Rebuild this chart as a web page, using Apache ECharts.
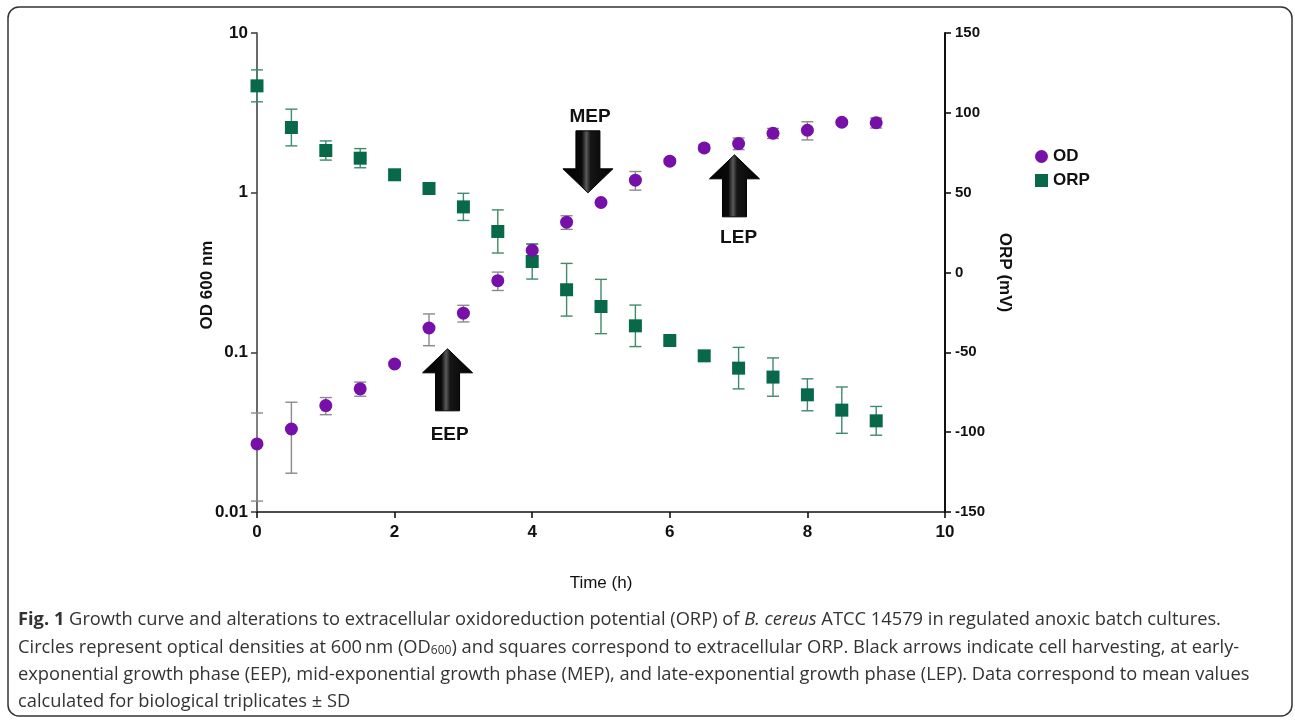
<!DOCTYPE html>
<html>
<head>
<meta charset="utf-8">
<script src="https://cdn.jsdelivr.net/npm/echarts@6/dist/echarts.min.js"></script>
<style>
html,body{margin:0;padding:0;background:#fff;}
#chart{width:1295px;height:722px;}
</style>
</head>
<body>
<div id="chart"></div>
<script>
// ---- data ----
const times = [0, 0.5, 1, 1.5, 2, 2.5, 3, 3.5, 4, 4.5, 5, 5.5, 6, 6.5, 7, 7.5, 8, 8.5, 9];
const odMean = [0.0267, 0.0331, 0.0464, 0.0591, 0.0845, 0.142, 0.176, 0.281, 0.436, 0.653, 0.868, 1.197, 1.574, 1.907, 2.03, 2.355, 2.46, 2.76, 2.74];
const odSd = [0.015, 0.0156, 0.0057, 0.006, 0.003, 0.032, 0.021, 0.037, 0.04, 0.064, 0.02, 0.16, 0.05, 0.08, 0.17, 0.17, 0.32, 0.08, 0.2];
const orpMean = [116.9, 90.8, 76.4, 71.6, 61.2, 52.6, 41.1, 25.7, 6.9, -10.8, -21.3, -33.4, -42.6, -52.2, -59.9, -65.5, -76.6, -86.2, -92.9];
const orpSd = [10, 11.5, 6, 6, 1, 1, 8.5, 13.5, 11, 16.5, 17, 13, 2.5, 2.5, 13, 12, 10, 14.5, 9];
const xTicks = [0, 2, 4, 6, 8, 10];
const odTicks = [0.01, 0.1, 1, 10];
const orpTicks = [-150, -100, -50, 0, 50, 100, 150];
const seriesNames = ['OD', 'ORP'];
// harvesting annotations
const harvestNames = ['EEP', 'MEP', 'LEP'];
const harvestTime = [2.77, 4.81, 6.94];
const harvestDir = ['up', 'down', 'up'];

const PURPLE = '#7610A8';
const GREEN = '#07684A';
const FONT = "'Liberation Sans', Arial, sans-serif";

const odData = times.map((t, i) => [t, odMean[i]]);
const orpData = times.map((t, i) => [t, orpMean[i]]);
const odErr = times.map((t, i) => [t, odMean[i] - odSd[i], odMean[i] + odSd[i]]);
const orpErr = times.map((t, i) => [t, orpMean[i] - orpSd[i], orpMean[i] + orpSd[i]]);

function errRender(color) {
  return function (params, api) {
    const x = api.value(0);
    const lo = api.coord([x, api.value(1)]);
    const hi = api.coord([x, api.value(2)]);
    const c = 6;
    const st = { stroke: color, lineWidth: 1.4 };
    return {
      type: 'group',
      children: [
        { type: 'line', shape: { x1: lo[0], y1: lo[1], x2: hi[0], y2: hi[1] }, style: st },
        { type: 'line', shape: { x1: hi[0] - c, y1: hi[1], x2: hi[0] + c, y2: hi[1] }, style: st },
        { type: 'line', shape: { x1: lo[0] - c, y1: lo[1], x2: lo[0] + c, y2: lo[1] }, style: st }
      ]
    };
  };
}

const chart = echarts.init(document.getElementById('chart'), null, { renderer: 'canvas' });

const option = {
  animation: false,
  backgroundColor: '#fff',
  grid: { left: 257, right: 350, top: 33, bottom: 210 },
  legend: {
    orient: 'vertical', left: 1030, top: 143,
    itemWidth: 13, itemHeight: 13, itemGap: 7,
    textStyle: { fontFamily: FONT, fontWeight: 'bold', fontSize: 17, color: '#111' },
    data: [{ name: seriesNames[0], icon: 'circle' }, { name: seriesNames[1], icon: 'rect' }]
  },
  xAxis: {
    type: 'value', min: xTicks[0], max: xTicks[xTicks.length - 1], interval: 2,
    name: 'Time (h)', nameLocation: 'middle', nameGap: 63,
    nameTextStyle: { fontFamily: FONT, fontSize: 17, color: '#111' },
    axisLine: { onZero: false, lineStyle: { color: '#111', width: 1.6 } },
    axisTick: { length: 6, lineStyle: { color: '#111', width: 1.6 } },
    axisLabel: { fontFamily: FONT, fontWeight: 'bold', fontSize: 17, color: '#111', margin: 12 },
    splitLine: { show: false }
  },
  yAxis: [
    {
      type: 'log', logBase: 10, min: odTicks[0], max: odTicks[odTicks.length - 1],
      position: 'left',
      axisLine: { show: true, lineStyle: { color: '#444', width: 1.6 } },
      axisTick: { show: true, length: 6, lineStyle: { color: '#444', width: 1.6 } },
      axisLabel: { fontFamily: FONT, fontWeight: 'bold', fontSize: 17, color: '#111', margin: 9,
        formatter: v => String(+v.toPrecision(3)) },
      splitLine: { show: false }
    },
    {
      type: 'value', min: orpTicks[0], max: orpTicks[orpTicks.length - 1], interval: 50,
      position: 'right',
      name: 'ORP (mV)', nameLocation: 'middle', nameRotate: -90, nameGap: 50,
      nameTextStyle: { fontFamily: FONT, fontWeight: 'bold', fontSize: 17, color: '#111' },
      axisLine: { show: true, onZero: false, lineStyle: { color: '#111', width: 2 } },
      axisTick: { show: true, length: 6, lineStyle: { color: '#111', width: 1.6 } },
      axisLabel: { fontFamily: FONT, fontWeight: 'bold', fontSize: 15, color: '#111', margin: 10 },
      splitLine: { show: false }
    }
  ],
  series: [
    { type: 'custom', name: 'odErr', yAxisIndex: 0, data: odErr, encode: { x: 0, y: [1, 2] },
      renderItem: errRender('#8a8a8a'), z: 1, silent: true },
    { type: 'custom', name: 'orpErr', yAxisIndex: 1, data: orpErr, encode: { x: 0, y: [1, 2] },
      renderItem: errRender('#3f8a68'), z: 1, silent: true },
    { type: 'scatter', name: seriesNames[1], yAxisIndex: 1, data: orpData, symbol: 'rect', symbolSize: 13,
      itemStyle: { color: GREEN, opacity: 1 }, z: 3 },
    { type: 'scatter', name: seriesNames[0], yAxisIndex: 0, data: odData, symbol: 'circle', symbolSize: 13,
      itemStyle: { color: PURPLE, opacity: 1 }, z: 4 }
  ]
};
chart.setOption(option);

// ---- annotations (arrows + labels), anchored through the axes ----
function px(t, orp) { return chart.convertToPixel({ xAxisIndex: 0, yAxisIndex: 1 }, [t, orp]); }
const harvestTipOrp = [-47.8, 49.9, 73.7];
const harvestLabelOrp = [-101.6, 97.5, 21.7];
const harvestLabelDt = [0.03, 0.03, 0.06];

const arrowGrad = {
  type: 'linear', x: 0, y: 0, x2: 1, y2: 0,
  colorStops: [
    { offset: 0, color: '#000' }, { offset: 0.38, color: '#0a0a0a' },
    { offset: 0.47, color: '#5a5a5a' }, { offset: 0.55, color: '#161616' }, { offset: 1, color: '#000' }
  ]
};
const graphics = [];
harvestNames.forEach((nm, i) => {
  const tip = px(harvestTime[i], harvestTipOrp[i]);
  const s = harvestDir[i] === 'up' ? 1 : -1;
  const cx = tip[0], ty = tip[1];
  const hw = 25, sw = 12, hh = 24, H = 62;
  const pts = [
    [cx, ty], [cx + hw, ty + s * hh], [cx + sw, ty + s * hh], [cx + sw, ty + s * H],
    [cx - sw, ty + s * H], [cx - sw, ty + s * hh], [cx - hw, ty + s * hh]
  ];
  graphics.push({ type: 'polygon', shape: { points: pts }, style: { fill: arrowGrad, stroke: '#000', lineWidth: 1 }, z: 10 });
  const lp = px(harvestTime[i] + harvestLabelDt[i], harvestLabelOrp[i]);
  graphics.push({ type: 'text', x: lp[0], y: lp[1], z: 10,
    style: { text: nm, fontFamily: FONT, fontWeight: 'bold', fontSize: 19, fill: '#111', textAlign: 'center', textVerticalAlign: 'middle' } });
});

// left axis title
graphics.push({ type: 'text', x: 207, y: 285, rotation: Math.PI / 2, z: 10,
  style: { text: 'OD 600 nm', fontFamily: FONT, fontWeight: 'bold', fontSize: 17, fill: '#111', textAlign: 'center', textVerticalAlign: 'middle' } });

// figure frame
graphics.push({ type: 'rect', shape: { x: 8, y: 7, width: 1284, height: 709, r: 11 },
  style: { fill: 'none', stroke: '#333', lineWidth: 1.5 }, z: 0 });

// caption
const capFont = "'Open Sans', 'Noto Sans', sans-serif";
const CAP = 18.3;
const capLines = [
  '{b|Fig. 1} Growth curve and alterations to extracellular oxidoreduction potential (ORP) of {i|B. cereus} ATCC 14579 in regulated anoxic batch cultures.',
  'Circles represent optical densities at 600\u2009nm (OD{s|600}) and squares correspond to extracellular ORP. Black arrows indicate cell harvesting, at early-',
  'exponential growth phase (EEP), mid-exponential growth phase (MEP), and late-exponential growth phase (LEP). Data correspond to mean values',
  'calculated for biological triplicates \u00b1 SD'
];
const capY = [620, 647.5, 675, 702];
capLines.forEach((ln, i) => {
  graphics.push({ type: 'text', x: 18, y: capY[i], z: 10,
    style: { text: ln, fontFamily: capFont, fontSize: CAP, fill: '#333', textVerticalAlign: 'middle',
      rich: {
        b: { fontFamily: capFont, fontSize: CAP, fontWeight: 'bold', fill: '#333' },
        i: { fontFamily: capFont, fontSize: CAP, fontStyle: 'italic', fill: '#333' },
        s: { fontFamily: capFont, fontSize: 12, fill: '#333', verticalAlign: 'bottom', padding: [7, 0, 0, 0] }
      } } });
});
chart.setOption({ graphic: graphics });
</script>
</body>
</html>
